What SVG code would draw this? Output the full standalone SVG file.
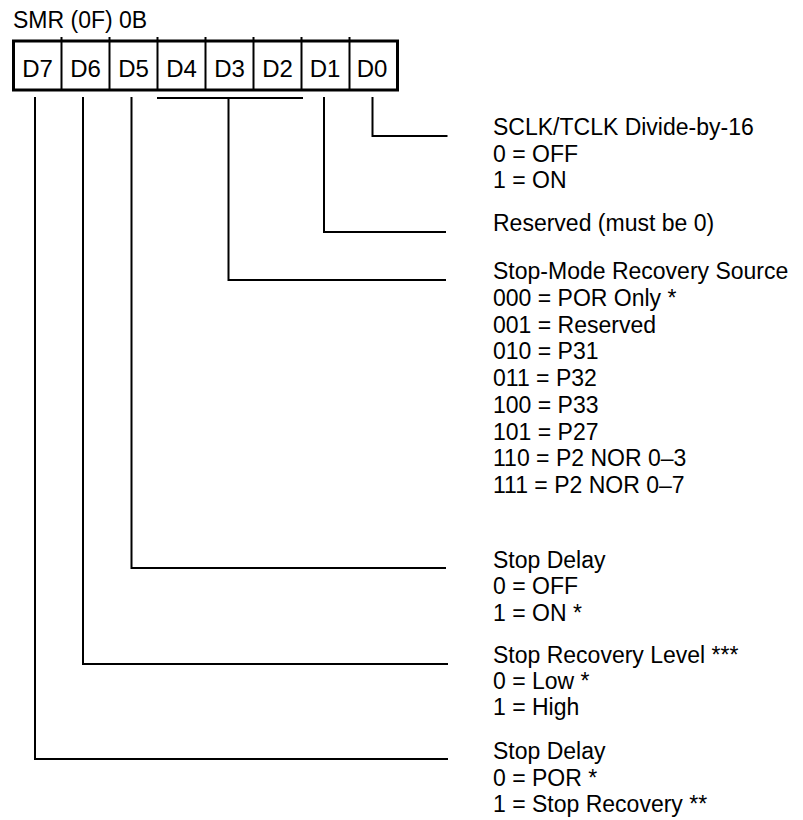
<svg xmlns="http://www.w3.org/2000/svg" width="803" height="820" viewBox="0 0 803 820">
<style>
text { font-family: "Liberation Sans", Arial, sans-serif; font-size: 23px; fill: #000; }
.bit { text-anchor: middle; font-size: 24px; }
.reg { fill: none; stroke: #000; stroke-width: 3; }
.div { stroke: #000; stroke-width: 2; }
.conn { fill: none; stroke: #000; stroke-width: 2; stroke-linejoin: miter; }
</style>
<rect width="803" height="820" fill="#fff"/>
<g id="title"><text x="13" y="28">SMR (0F) 0B</text></g>
<g id="register">
<rect class="reg" x="13.5" y="41" width="384" height="49"/>
<line class="div" x1="61.5" y1="37" x2="61.5" y2="90"/>
<line class="div" x1="109.5" y1="37" x2="109.5" y2="90"/>
<line class="div" x1="157.5" y1="37" x2="157.5" y2="90"/>
<line class="div" x1="205.5" y1="37" x2="205.5" y2="90"/>
<line class="div" x1="253.5" y1="37" x2="253.5" y2="90"/>
<line class="div" x1="301.5" y1="37" x2="301.5" y2="90"/>
<line class="div" x1="349.5" y1="37" x2="349.5" y2="90"/>
<text class="bit" x="37.5" y="77">D7</text>
<text class="bit" x="85.5" y="77">D6</text>
<text class="bit" x="133.5" y="77">D5</text>
<text class="bit" x="181.5" y="77">D4</text>
<text class="bit" x="229.5" y="77">D3</text>
<text class="bit" x="277.5" y="77">D2</text>
<text class="bit" x="325" y="77">D1</text>
<text class="bit" x="372" y="77">D0</text>
</g>
<g id="connectors">
<polyline class="conn" points="372.5,97 372.5,136 447.5,136"/>
<polyline class="conn" points="324,97 324,232 446,232"/>
<line class="conn" x1="157" y1="98" x2="303" y2="98"/>
<polyline class="conn" points="228.5,98 228.5,280 446,280"/>
<polyline class="conn" points="131.5,97 131.5,568 446,568"/>
<polyline class="conn" points="83,97 83,664 448,664"/>
<polyline class="conn" points="35,97 35,759 448,759"/>
</g>
<g id="d0-desc">
<text x="493" y="135">SCLK/TCLK Divide-by-16</text>
<text x="493" y="161.7">0 = OFF</text>
<text x="493" y="188.4">1 = ON</text>
</g>
<g id="d1-desc">
<text x="493" y="231">Reserved (must be 0)</text>
</g>
<g id="d4d2-desc">
<text x="493" y="279">Stop-Mode Recovery Source</text>
<text x="493" y="305.75">000 = POR Only *</text>
<text x="493" y="332.5">001 = Reserved</text>
<text x="493" y="359.25">010 = P31</text>
<text x="493" y="386">011 = P32</text>
<text x="493" y="412.75">100 = P33</text>
<text x="493" y="439.5">101 = P27</text>
<text x="493" y="466.25">110 = P2 NOR 0–3</text>
<text x="493" y="493">111 = P2 NOR 0–7</text>
</g>
<g id="d5-desc">
<text x="493" y="568">Stop Delay</text>
<text x="493" y="594.3">0 = OFF</text>
<text x="493" y="620.6">1 = ON *</text>
</g>
<g id="d6-desc">
<text x="493" y="662.5">Stop Recovery Level ***</text>
<text x="493" y="688.8">0 = Low *</text>
<text x="493" y="715.1">1 = High</text>
</g>
<g id="d7-desc">
<text x="493" y="759">Stop Delay</text>
<text x="493" y="785.7">0 = POR *</text>
<text x="493" y="812.4">1 = Stop Recovery **</text>
</g>
</svg>
